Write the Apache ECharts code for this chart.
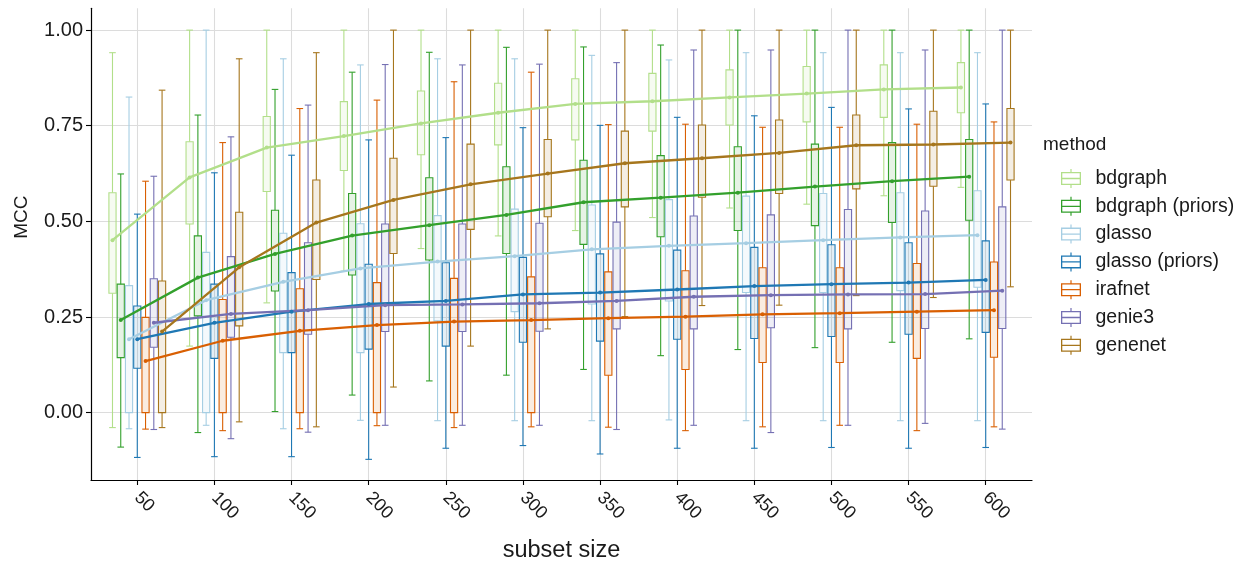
<!DOCTYPE html>
<html>
<head>
<meta charset="utf-8">
<script src="https://cdn.jsdelivr.net/npm/echarts@6/dist/echarts.min.js"></script>
<style>
  html, body { margin: 0; padding: 0; background: #ffffff; }
  #chart { width: 1247px; height: 563px; }
</style>
</head>
<body>
<div id="chart"></div>
<script>
// Subset sizes on the x axis
const subsetSizes = [50, 100, 150, 200, 250, 300, 350, 400, 450, 500, 550, 600];

// Methods, in dodge / legend order
const methods = ['bdgraph', 'bdgraph (priors)', 'glasso', 'glasso (priors)', 'irafnet', 'genie3', 'genenet'];

// Upper whisker end of each box (rows follow `methods`)
const upperWhisker = [
  [0.941, 1.000, 1.000, 1.000, 1.000, 1.000, 1.000, 1.000, 1.000, 1.000, 1.000, 1.000],
  [0.624, 0.778, 0.845, 0.890, 0.942, 0.955, 0.956, 0.961, 1.000, 1.000, 1.000, 1.000],
  [0.825, 1.000, 0.925, 0.909, 0.925, 0.925, 0.934, 0.922, 0.941, 0.941, 0.941, 0.941],
  [0.519, 0.627, 0.673, 0.713, 0.719, 0.745, 0.751, 0.772, 0.776, 0.798, 0.794, 0.807],
  [0.605, 0.706, 0.795, 0.817, 0.865, 0.890, 0.753, 0.754, 0.746, 0.746, 0.754, 0.760],
  [0.618, 0.721, 0.804, 0.910, 0.909, 0.911, 0.915, 0.948, 0.948, 1.000, 0.948, 1.000],
  [0.843, 0.925, 0.941, 1.000, 1.000, 1.000, 1.000, 1.000, 1.000, 1.000, 1.000, 1.000]
];

// Third quartile (box top)
const upperQuartile = [
  [0.575, 0.708, 0.774, 0.813, 0.841, 0.861, 0.873, 0.887, 0.896, 0.905, 0.909, 0.915],
  [0.336, 0.462, 0.529, 0.573, 0.614, 0.643, 0.660, 0.672, 0.695, 0.702, 0.706, 0.714],
  [0.332, 0.419, 0.469, 0.494, 0.515, 0.532, 0.543, 0.557, 0.566, 0.573, 0.575, 0.580],
  [0.279, 0.336, 0.366, 0.388, 0.392, 0.406, 0.415, 0.425, 0.432, 0.439, 0.444, 0.449],
  [0.249, 0.296, 0.324, 0.340, 0.351, 0.355, 0.368, 0.371, 0.379, 0.379, 0.390, 0.394],
  [0.350, 0.408, 0.444, 0.493, 0.493, 0.495, 0.498, 0.514, 0.517, 0.531, 0.527, 0.538],
  [0.344, 0.524, 0.608, 0.665, 0.702, 0.714, 0.736, 0.752, 0.765, 0.778, 0.788, 0.795]
];

// First quartile (box bottom)
const lowerQuartile = [
  [0.312, 0.493, 0.578, 0.633, 0.674, 0.700, 0.713, 0.736, 0.752, 0.760, 0.772, 0.784],
  [0.144, 0.253, 0.318, 0.360, 0.399, 0.416, 0.440, 0.460, 0.476, 0.489, 0.497, 0.503],
  [0.000, 0.000, 0.157, 0.157, 0.240, 0.264, 0.284, 0.292, 0.314, 0.314, 0.319, 0.328],
  [0.116, 0.142, 0.157, 0.166, 0.174, 0.184, 0.187, 0.192, 0.194, 0.199, 0.205, 0.210],
  [0.000, 0.000, 0.000, 0.000, 0.000, 0.000, 0.098, 0.113, 0.131, 0.131, 0.142, 0.145],
  [0.171, 0.197, 0.205, 0.212, 0.212, 0.213, 0.219, 0.219, 0.222, 0.219, 0.220, 0.220],
  [0.000, 0.227, 0.348, 0.416, 0.479, 0.512, 0.538, 0.563, 0.573, 0.585, 0.592, 0.608]
];

// Lower whisker end
const lowerWhisker = [
  [-0.039, 0.174, 0.287, 0.370, 0.429, 0.462, 0.476, 0.510, 0.535, 0.545, 0.567, 0.589],
  [-0.090, -0.052, 0.003, 0.046, 0.083, 0.098, 0.113, 0.149, 0.165, 0.170, 0.184, 0.193],
  [-0.042, -0.033, -0.042, -0.020, -0.021, -0.021, -0.021, -0.019, -0.021, -0.021, -0.021, -0.021],
  [-0.117, -0.115, -0.115, -0.122, -0.093, -0.086, -0.108, -0.093, -0.093, -0.091, -0.093, -0.091],
  [-0.043, -0.047, -0.042, -0.034, -0.039, -0.037, -0.038, -0.047, -0.037, -0.033, -0.047, -0.037],
  [-0.044, -0.068, -0.051, -0.033, -0.033, -0.033, -0.044, -0.033, -0.052, -0.033, -0.028, -0.043],
  [-0.039, -0.024, -0.037, 0.067, 0.174, 0.219, 0.251, 0.280, 0.281, 0.306, 0.301, 0.329]
];

// Mean MCC per subset size (drawn as the connecting lines)
const meanMCC = [
  [0.451, 0.615, 0.693, 0.723, 0.756, 0.784, 0.807, 0.814, 0.824, 0.834, 0.845, 0.850],
  [0.242, 0.353, 0.415, 0.463, 0.490, 0.517, 0.550, 0.562, 0.575, 0.591, 0.605, 0.617],
  [0.192, 0.294, 0.342, 0.377, 0.395, 0.409, 0.427, 0.436, 0.443, 0.451, 0.458, 0.464],
  [0.192, 0.235, 0.264, 0.284, 0.292, 0.309, 0.314, 0.322, 0.331, 0.336, 0.340, 0.347],
  [0.135, 0.188, 0.214, 0.229, 0.238, 0.242, 0.247, 0.251, 0.257, 0.260, 0.264, 0.268],
  [0.235, 0.258, 0.268, 0.281, 0.283, 0.286, 0.292, 0.303, 0.307, 0.309, 0.310, 0.319],
  [0.212, 0.380, 0.497, 0.556, 0.597, 0.625, 0.652, 0.665, 0.679, 0.699, 0.701, 0.706]
];

// Tick values on the y axis
const yTicks = [0, 0.25, 0.5, 0.75, 1];

// ---- styling ----
const palette = ['#B2DF8A', '#33A02C', '#A6CEE3', '#1F78B4', '#D95F02', '#7570B3', '#A6761D'];
const FONT = '"Liberation Sans", Arial, Helvetica, sans-serif';
const TEXT = '#1a1a1a';
const STEP = 50;                       // distance between subset sizes
const DODGE = 0.75 * STEP;             // width shared by the seven boxes
const SLOT = DODGE / methods.length;   // width of one box

function dodged(size, m) {
  return size - DODGE / 2 + SLOT * (m + 0.5);
}

function withAlpha(hex, a) {
  const n = parseInt(hex.slice(1), 16);
  return 'rgba(' + ((n >> 16) & 255) + ',' + ((n >> 8) & 255) + ',' + (n & 255) + ',' + a + ')';
}

// Box + whiskers for one (method, size) pair
function renderBox(params, api) {
  const x = api.value(0);
  const lo = api.coord([x, api.value(1)]);
  const q1 = api.coord([x, api.value(2)]);
  const q3 = api.coord([x, api.value(3)]);
  const hi = api.coord([x, api.value(4)]);
  const w = api.size([SLOT, 0])[0];
  const cap = w * 0.8;
  const color = api.visual('color');
  const line = { stroke: color, lineWidth: 1.1, fill: null };
  return {
    type: 'group',
    children: [
      { type: 'line', shape: { x1: hi[0], y1: hi[1], x2: q3[0], y2: q3[1] }, style: line },
      { type: 'line', shape: { x1: q1[0], y1: q1[1], x2: lo[0], y2: lo[1] }, style: line },
      { type: 'line', shape: { x1: hi[0] - cap / 2, y1: hi[1], x2: hi[0] + cap / 2, y2: hi[1] }, style: line },
      { type: 'line', shape: { x1: lo[0] - cap / 2, y1: lo[1], x2: lo[0] + cap / 2, y2: lo[1] }, style: line },
      {
        type: 'rect',
        shape: { x: q3[0] - w / 2 + 0.55, y: q3[1], width: w - 1.1, height: q1[1] - q3[1] },
        style: { stroke: color, lineWidth: 1.1, fill: withAlpha(color, 0.12) }
      }
    ]
  };
}

// Legend glyph: a small box with median bar and whiskers
const BOX_ICON = 'path://M9.4,0h1.2v3h-1.2z M0,3h20v1.3h-20z M0,14.7h20v1.3h-20z M0,3h1.3v13h-1.3z ' +
  'M18.7,3h1.3v13h-1.3z M0,8.85h20v1.3h-20z M9.4,16h1.2v3h-1.2z';

const boxSeries = methods.map((name, m) => ({
  name: name,
  type: 'custom',
  z: 2,
  itemStyle: { color: palette[m] },
  renderItem: renderBox,
  encode: { x: 0, y: [1, 2, 3, 4] },
  data: subsetSizes.map((s, k) => [
    dodged(s, m), lowerWhisker[m][k], lowerQuartile[m][k], upperQuartile[m][k], upperWhisker[m][k]
  ]),
  silent: true
}));

const meanSeries = methods.map((name, m) => ({
  name: name,
  type: 'line',
  z: 3,
  symbol: 'circle',
  symbolSize: 4,
  showSymbol: true,
  itemStyle: { color: palette[m] },
  lineStyle: { color: palette[m], width: 2.3 },
  emphasis: { disabled: true },
  data: subsetSizes.map((s, k) => [dodged(s, m), meanMCC[m][k]]),
  silent: true
}));

const chart = echarts.init(document.getElementById('chart'), null, { renderer: 'canvas' });

chart.setOption({
  animation: false,
  backgroundColor: '#ffffff',
  textStyle: { fontFamily: FONT },
  title: {
    text: 'method',
    left: 1043,
    top: 135,
    padding: 0,
    textStyle: { fontFamily: FONT, fontSize: 19, fontWeight: 'normal', color: TEXT }
  },
  legend: {
    orient: 'vertical',
    left: 1061,
    top: 168.5,
    padding: 0,
    itemWidth: 21,
    itemHeight: 19,
    itemGap: 7.8,
    selectedMode: false,
    data: methods.map((name, m) => ({
      name: name,
      icon: BOX_ICON,
      itemStyle: { color: palette[m], borderWidth: 0, opacity: 1 }
    })),
    textStyle: { fontFamily: FONT, fontSize: 19.5, color: TEXT, padding: [0, 0, 0, 9], lineHeight: 19 }
  },
  grid: {
    left: 91, right: 215, top: 8.3, bottom: 83,
    containLabel: false,
    outerBoundsMode: 'none'
  },
  xAxis: {
    type: 'value',
    min: 20,
    max: 630,
    name: 'subset size',
    nameLocation: 'middle',
    nameGap: 59,
    nameTextStyle: { fontFamily: FONT, fontSize: 23.5, color: TEXT },
    axisLine: { show: true, onZero: false, lineStyle: { color: '#000000', width: 1.2 } },
    axisTick: { show: true, length: 5, lineStyle: { color: '#000000', width: 1.1 }, customValues: subsetSizes },
    axisLabel: {
      customValues: subsetSizes,
      rotate: -45,
      margin: 15,
      fontFamily: FONT,
      fontSize: 18,
      color: TEXT
    },
    splitLine: { show: true, lineStyle: { color: '#dcdcdc', width: 1.1 } }
  },
  yAxis: {
    type: 'value',
    min: -0.176,
    max: 1.057,
    name: 'MCC',
    nameLocation: 'middle',
    nameRotate: 90,
    nameGap: 60,
    nameTextStyle: { fontFamily: FONT, fontSize: 19, color: TEXT, padding: [0, 0, 0, 54] },
    axisLine: { show: true, onZero: false, lineStyle: { color: '#000000', width: 1.2 } },
    axisTick: { show: true, length: 5, lineStyle: { color: '#000000', width: 1.1 }, customValues: yTicks },
    axisLabel: {
      customValues: yTicks,
      margin: 8,
      fontFamily: FONT,
      fontSize: 20,
      color: TEXT,
      formatter: v => v.toFixed(2)
    },
    splitLine: { show: true, lineStyle: { color: '#dcdcdc', width: 1.1 } }
  },
  series: boxSeries.concat(meanSeries)
});
</script>
</body>
</html>
